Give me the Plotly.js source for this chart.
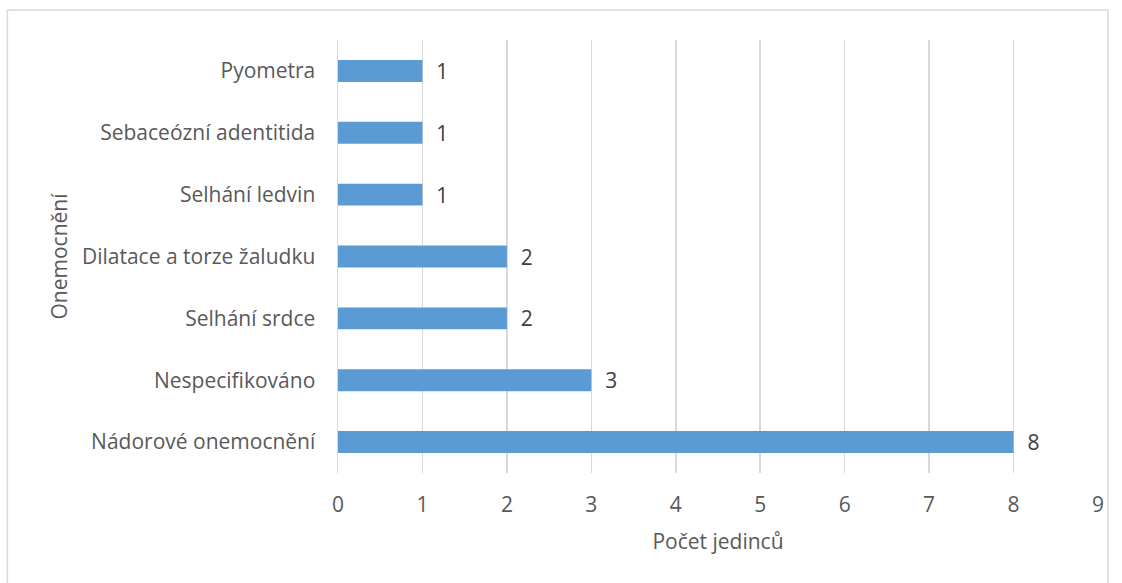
<!DOCTYPE html>
<html>
<head>
<meta charset="utf-8">
<script src="https://cdn.plot.ly/plotly-3.0.1.min.js"></script>
<style>html,body{margin:0;padding:0;background:#fff;}#chart{width:1122px;height:583px;}</style>
</head>
<body>
<div id="chart"></div>
<script>
var categories = ["Nádorové onemocnění", "Nespecifikováno", "Selhání srdce", "Dilatace a torze žaludku", "Selhání ledvin", "Sebaceózní adentitida", "Pyometra"];
var counts = [8, 3, 2, 2, 1, 1, 1];
var xTicks = [0, 1, 2, 3, 4, 5, 6, 7, 8, 9];
var xTitle = "Počet jedinců";
var yTitle = "Onemocnění";

var fontFam = "Open Sans, Noto Sans, sans-serif";
var trace = {
  type: "bar",
  orientation: "h",
  x: counts,
  y: categories,
  marker: {color: "#5B9BD5"},
  width: 0.355,
  text: counts.map(String),
  texttemplate: "  %{text}",
  textposition: "outside",
  constraintext: "none",
  textfont: {family: fontFam, size: 21, color: "#404040"},
  cliponaxis: false,
  hoverinfo: "none"
};
var layout = {
  width: 1122, height: 583,
  margin: {l: 338, r: 24, t: 40, b: 110},
  paper_bgcolor: "#fff", plot_bgcolor: "#fff",
  showlegend: false,
  font: {family: fontFam, size: 21, color: "#595959"},
  xaxis: {
    range: [0, 9], tickvals: xTicks, showgrid: true, gridcolor: "#D9D9D9", gridwidth: 1.5,
    zeroline: false, showline: false, ticks: "",
    ticklabelstandoff: 17,
    tickfont: {family: fontFam, size: 21, color: "#595959"},
    title: {text: xTitle, standoff: 17, font: {family: fontFam, size: 21, color: "#595959"}}
  },
  yaxis: {
    type: "category", categoryorder: "array", categoryarray: categories,
    range: [-0.5, 6.5], showgrid: false, zeroline: false,
    showline: true, linecolor: "#D9D9D9", linewidth: 1.5, ticks: "",
    ticklabelstandoff: 17,
    tickfont: {family: fontFam, size: 21, color: "#595959"},
    title: {text: yTitle, standoff: 8, font: {family: fontFam, size: 21, color: "#595959"}}
  },
  shapes: [{
    type: "rect", xref: "paper", yref: "paper",
    x0: -0.435, x1: 1.013, y0: -0.28, y1: 1.069,
    line: {color: "#D9D9D9", width: 1.5}, fillcolor: "rgba(0,0,0,0)", layer: "below"
  }]
};
Plotly.newPlot("chart", [trace], layout, {staticPlot: true});
</script>
</body>
</html>
